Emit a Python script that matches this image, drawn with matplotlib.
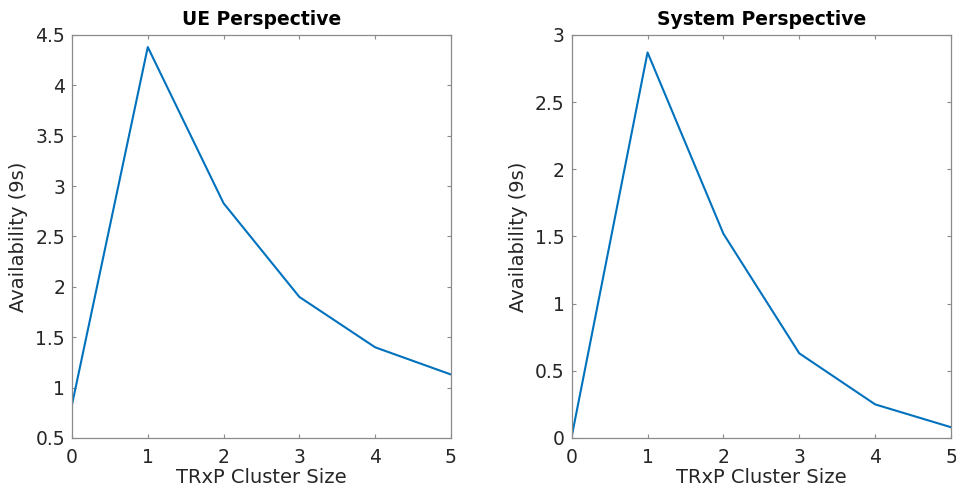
import matplotlib
matplotlib.use("Agg")
import matplotlib.pyplot as plt

# cluster sizes and availability (number of nines)
cluster_size = [0, 1, 2, 3, 4, 5]
ue_avail = [0.83, 4.38, 2.83, 1.90, 1.40, 1.13]
sys_avail = [0.01, 2.87, 1.52, 0.63, 0.25, 0.08]

ue_yticks = [0.5, 1, 1.5, 2, 2.5, 3, 3.5, 4, 4.5]
sys_yticks = [0, 0.5, 1, 1.5, 2, 2.5, 3]

LINE_COLOR = "#0072BD"
TEXT_COLOR = "#262626"
AXIS_COLOR = "#8a8a8a"

plt.rcParams["font.family"] = ["DejaVu Sans"]


def _fmt(v):
    return f"{v:g}"


def _style(ax, yticks, ylim, title):
    ax.set_xlim(0, 5)
    ax.set_ylim(*ylim)
    ax.set_xticks(cluster_size)
    ax.set_yticks(yticks)
    ax.set_yticklabels([_fmt(v) for v in yticks])
    ax.tick_params(direction="in", length=3, width=0.8, color=AXIS_COLOR,
                   labelcolor=TEXT_COLOR, labelsize=13.5, top=True, right=True)
    ax.tick_params(axis="x", pad=7)
    ax.tick_params(axis="y", pad=5)
    for sp in ax.spines.values():
        sp.set_color(AXIS_COLOR)
        sp.set_linewidth(0.9)
    ax.set_xlabel("TRxP Cluster Size", fontsize=14, color=TEXT_COLOR, labelpad=1)
    ax.set_ylabel("Availability (9s)", fontsize=14, color=TEXT_COLOR, labelpad=5)
    ax.set_title(title, fontsize=13.5, fontweight="bold", color="black", pad=7)


fig = plt.figure(figsize=(9.56, 4.94), dpi=100)
ax1 = fig.add_axes([0.0753, 0.1134, 0.3964, 0.8158])
ax2 = fig.add_axes([0.598, 0.1134, 0.3968, 0.8158])

ax1.plot(cluster_size, ue_avail, color=LINE_COLOR, lw=1.5)
_style(ax1, ue_yticks, (0.5, 4.5), "UE Perspective")

ax2.plot(cluster_size, sys_avail, color=LINE_COLOR, lw=1.5)
_style(ax2, sys_yticks, (0, 3), "System Perspective")

fig.savefig("out.png", dpi=100)
